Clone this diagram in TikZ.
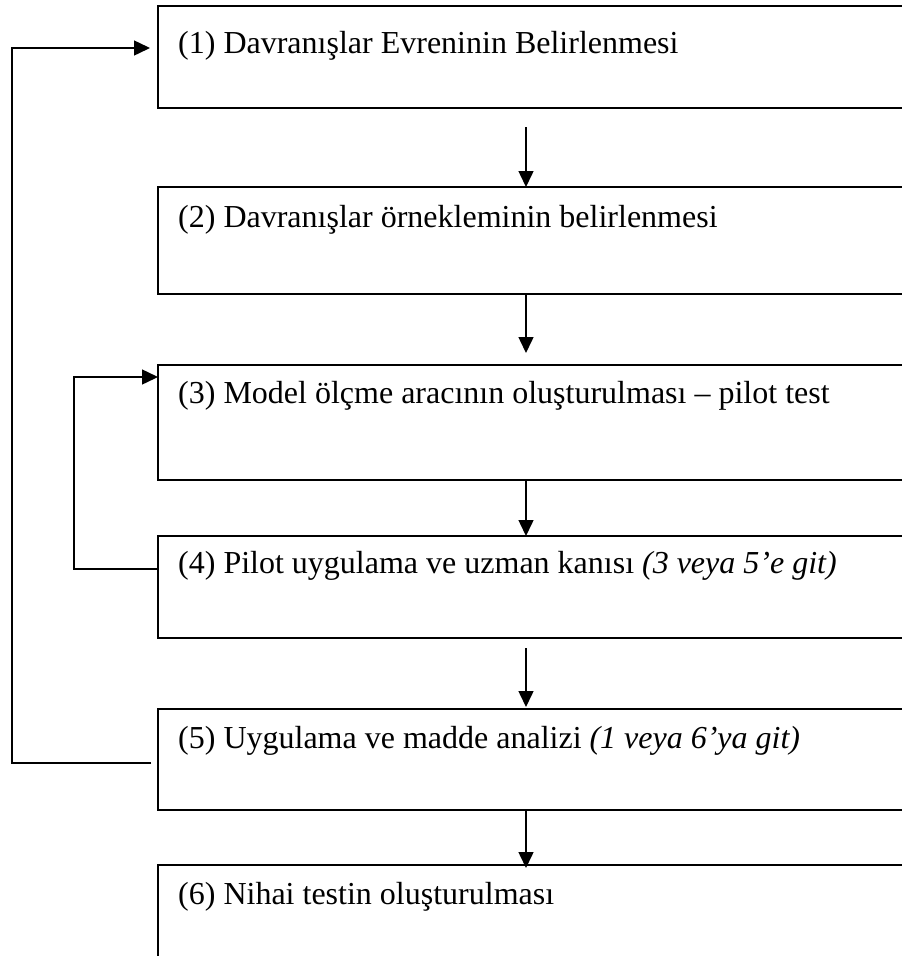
\documentclass[tikz,border=0pt]{standalone}
\usepackage{fontspec}
\setmainfont{Liberation Serif}
\usetikzlibrary{arrows.meta}
\begin{document}
\begin{tikzpicture}[x=1pt,y=-1pt,
  stepbox/.style={draw=black,line width=1.1pt,anchor=north west,minimum width=752pt,inner sep=0pt,outer sep=0pt},
  steptext/.style={anchor=base west,inner sep=0pt,font=\fontsize{32}{36}\selectfont},
  arr/.style={line width=1.5pt,-{Triangle[length=16pt,width=15pt]}},
  fb/.style={line width=1.5pt}]
\useasboundingbox (0,0) rectangle (902,956);
\clip (0,0) rectangle (902,956);
\node[stepbox,minimum height=102pt] (b1) at (158,6) {};
\node[stepbox,minimum height=107pt] (b2) at (158,187) {};
\node[stepbox,minimum height=115pt] (b3) at (158,365) {};
\node[stepbox,minimum height=102pt] (b4) at (158,536) {};
\node[stepbox,minimum height=101pt] (b5) at (158,709) {};
\node[stepbox,minimum height=110pt] (b6) at (158,865) {};
\node[steptext] (t1) at (178,53) {(1) Davranışlar Evreninin Belirlenmesi};
\node[steptext] (t2) at (178,227) {(2) Davranışlar örnekleminin belirlenmesi};
\node[steptext] (t3) at (178,403) {(3) Model ölçme aracının oluşturulması – pilot test};
\node[steptext] (t4) at (178,573) {(4) Pilot uygulama ve uzman kanısı \textit{(3 veya 5’e git)}};
\node[steptext] (t5) at (178,748) {(5) Uygulama ve madde analizi \textit{(1 veya 6’ya git)}};
\node[steptext] (t6) at (178,904) {(6) Nihai testin oluşturulması};
\coordinate (ax) at (526,0);
\draw[arr] ([yshift=-19pt]ax |- b1.south) -- (ax |- b2.north);
\draw[arr] (ax |- b2.south) -- ([yshift=12pt]ax |- b3.north);
\draw[arr] (ax |- b3.south) -- (ax |- b4.north);
\draw[arr] ([yshift=-10pt]ax |- b4.south) -- ([yshift=2pt]ax |- b5.north);
\draw[arr] (ax |- b5.south) -- ([yshift=-3pt]ax |- b6.north);
\coordinate (f1s) at (151,763);
\coordinate (f1e) at (150,48);
\draw[arr] (f1s) -- (12,763) -- (12,48) -- (f1e);
\draw[arr] (b4.west |- 0,569) -- (74,569) -- (74,377) -- (b3.west |- 0,377);
\end{tikzpicture}
\end{document}
